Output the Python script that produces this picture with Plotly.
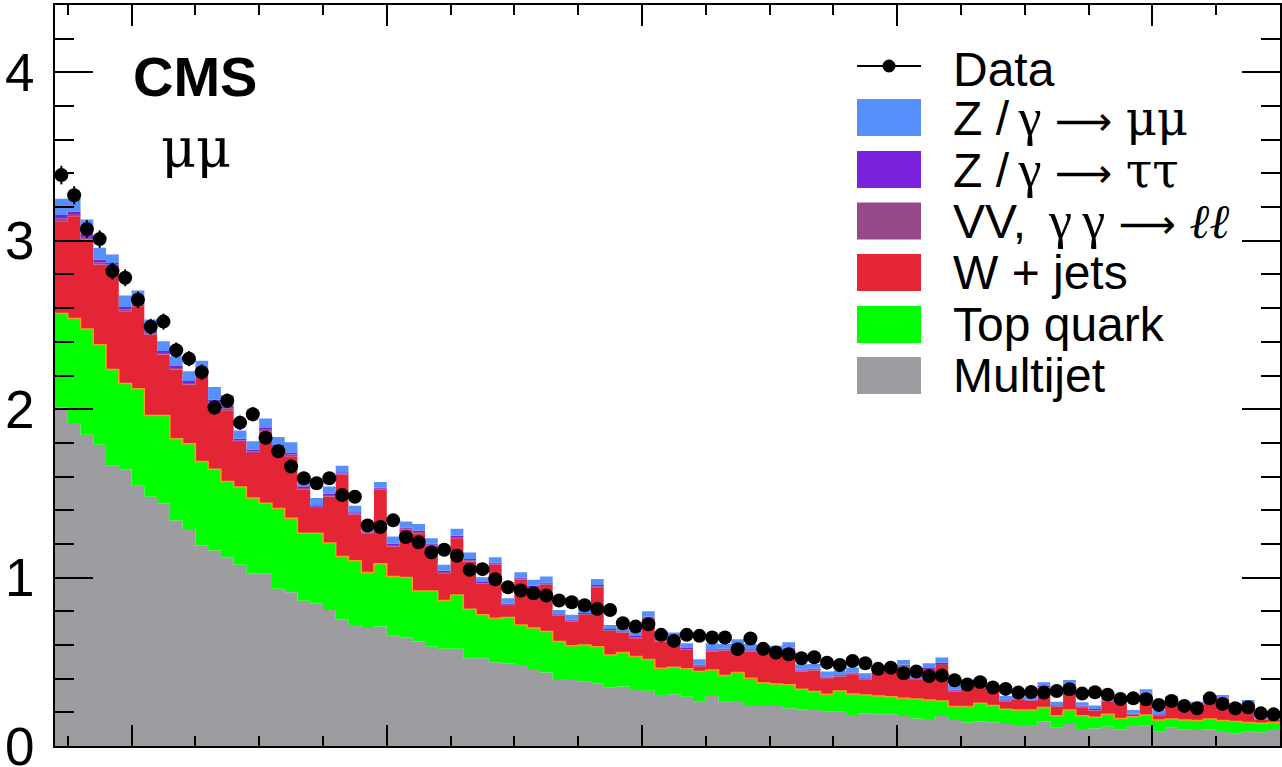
import numpy as np
import plotly.graph_objects as go

# ---------------- data (96 bins, arbitrary units on x) ----------------
bin_edges = list(range(0, 97))

multijet = [2.011,1.918,1.848,1.789,1.664,1.644,1.545,1.480,1.440,1.339,
            1.288,1.191,1.161,1.121,1.076,1.026,1.026,0.933,0.913,0.862,
            0.848,0.808,0.753,0.719,0.700,0.709,0.654,0.646,0.620,0.590,
            0.577,0.577,0.521,0.521,0.497,0.491,0.481,0.452,0.436,0.398,
            0.392,0.382,0.372,0.349,0.353,0.333,0.328,0.303,0.307,0.293,
            0.263,0.297,0.263,0.267,0.244,0.238,0.238,0.224,0.218,0.214,
            0.204,0.204,0.184,0.194,0.188,0.188,0.178,0.164,0.160,0.178,
            0.155,0.140,0.145,0.141,0.131,0.125,0.125,0.145,0.109,0.131,
            0.101,0.105,0.115,0.099,0.125,0.121,0.085,0.109,0.099,0.095,
            0.099,0.089,0.075,0.085,0.081,0.095]

top_quark = [0.557,0.620,0.628,0.594,0.571,0.508,0.577,0.483,0.523,0.486,
             0.507,0.499,0.483,0.450,0.462,0.446,0.416,0.477,0.440,0.402,
             0.416,0.397,0.372,0.381,0.330,0.373,0.352,0.355,0.301,0.331,
             0.287,0.320,0.291,0.258,0.262,0.272,0.238,0.248,0.244,0.222,
             0.204,0.218,0.218,0.192,0.202,0.198,0.185,0.159,0.161,0.165,
             0.179,0.155,0.155,0.169,0.158,0.138,0.130,0.139,0.119,0.109,
             0.103,0.123,0.125,0.109,0.109,0.105,0.105,0.115,0.113,0.089,
             0.079,0.094,0.109,0.099,0.087,0.089,0.089,0.083,0.071,0.083,
             0.079,0.065,0.073,0.065,0.049,0.063,0.070,0.051,0.056,0.056,
             0.061,0.062,0.070,0.054,0.054,0.044]

w_jets = [0.548,0.608,0.531,0.476,0.614,0.429,0.489,0.480,0.361,0.410,
          0.351,0.525,0.383,0.422,0.267,0.268,0.426,0.359,0.367,0.258,
          0.149,0.277,0.486,0.273,0.234,0.440,0.179,0.283,0.343,0.268,
          0.162,0.337,0.284,0.184,0.317,0.069,0.268,0.237,0.277,0.153,
          0.143,0.179,0.353,0.144,0.119,0.109,0.242,0.158,0.162,0.113,
          0.029,0.109,0.149,0.154,0.159,0.175,0.183,0.208,0.105,0.125,
          0.095,0.085,0.117,0.089,0.145,0.149,0.188,0.113,0.179,0.214,
          0.089,0.121,0.118,0.083,0.045,0.063,0.055,0.119,0.054,0.149,
          0.050,0.040,0.075,0.086,0.010,0.123,0.023,0.113,0.063,0.087,
          0.119,0.132,0.069,0.105,0.023,0.019]

vv_gg = [0.017,0.013,0.015,0.013,0.009,0.012,0.012,0.012,0.010,0.010,
         0.010,0.009,0.014,0.012,0.009,0.009,0.010,0.009,0.011,0.010,
         0.008,0.008,0.007,0.007,0.005,0.006,0.008,0.006,0.007,0.006,
         0.007,0.007,0.007,0.005,0.006,0.006,0.006,0.007,0.006,0.005,
         0.005,0.005,0.006,0.004,0.003,0.006,0.006,0.008,0.006,0.005,
         0.006,0.006,0.005,0.006,0.006,0.006,0.006,0.006,0.006,0.005,
         0.005,0.005,0.005,0.005,0.005,0.004,0.005,0.005,0.005,0.006,
         0.005,0.005,0.004,0.004,0.004,0.003,0.003,0.004,0.004,0.004,
         0.004,0.004,0.004,0.004,0.004,0.004,0.005,0.003,0.004,0.003,
         0.003,0.003,0.004,0.004,0.002,0.002]

z_tautau = [0.020,0.015,0.018,0.015,0.010,0.014,0.014,0.013,0.012,0.012,
            0.012,0.011,0.016,0.013,0.010,0.010,0.011,0.010,0.012,0.011,
            0.009,0.009,0.008,0.008,0.006,0.007,0.009,0.007,0.008,0.007,
            0.008,0.008,0.008,0.006,0.007,0.007,0.007,0.008,0.007,0.005,
            0.006,0.006,0.007,0.005,0.004,0.007,0.007,0.009,0.007,0.006,
            0.007,0.007,0.006,0.007,0.007,0.007,0.007,0.007,0.006,0.006,
            0.006,0.005,0.006,0.006,0.005,0.005,0.006,0.005,0.006,0.007,
            0.006,0.006,0.005,0.005,0.005,0.004,0.004,0.005,0.004,0.004,
            0.005,0.005,0.005,0.004,0.005,0.005,0.005,0.004,0.005,0.004,
            0.004,0.003,0.005,0.004,0.002,0.002]

z_mumu = [0.096,0.075,0.086,0.071,0.050,0.068,0.067,0.064,0.057,0.057,
          0.057,0.053,0.075,0.064,0.050,0.050,0.055,0.047,0.060,0.054,
          0.042,0.042,0.038,0.038,0.029,0.032,0.042,0.036,0.039,0.032,
          0.035,0.041,0.038,0.028,0.032,0.033,0.032,0.035,0.036,0.025,
          0.029,0.028,0.035,0.025,0.019,0.032,0.032,0.043,0.031,0.028,
          0.031,0.036,0.028,0.031,0.032,0.032,0.032,0.032,0.031,0.028,
          0.029,0.026,0.029,0.029,0.025,0.024,0.029,0.026,0.028,0.031,
          0.029,0.028,0.021,0.021,0.025,0.019,0.017,0.022,0.021,0.021,
          0.021,0.021,0.021,0.019,0.021,0.021,0.026,0.019,0.021,0.018,
          0.017,0.014,0.021,0.021,0.012,0.012]

data = [3.39,3.27,3.07,3.01,2.82,2.78,2.65,2.49,2.52,2.35,
        2.30,2.22,2.01,2.05,1.92,1.97,1.83,1.75,1.66,1.59,
        1.56,1.59,1.49,1.48,1.31,1.30,1.34,1.24,1.21,1.15,
        1.165,1.13,1.046,1.05,0.99,0.943,0.923,0.907,0.893,0.864,
        0.854,0.836,0.814,0.808,0.729,0.709,0.723,0.66,0.624,0.66,
        0.654,0.644,0.644,0.575,0.638,0.577,0.555,0.545,0.521,0.527,
        0.495,0.481,0.505,0.491,0.458,0.465,0.432,0.442,0.416,0.418,
        0.39,0.365,0.379,0.347,0.339,0.317,0.321,0.317,0.327,0.337,
        0.311,0.319,0.305,0.279,0.283,0.278,0.244,0.267,0.238,0.224,
        0.283,0.250,0.224,0.23,0.194,0.188]

data_err = [0.055,0.054,0.053,0.052,0.050,0.050,0.049,0.047,0.048,0.046,
            0.045,0.045,0.043,0.043,0.042,0.042,0.041,0.040,0.039,0.038,
            0.037,0.038,0.037,0.036,0.034,0.034,0.035,0.033,0.033,0.032,
            0.032,0.032,0.031,0.031,0.030,0.029,0.029,0.029,0.028,0.028,
            0.028,0.027,0.027,0.027,0.026,0.025,0.026,0.024,0.024,0.024,
            0.024,0.024,0.024,0.023,0.024,0.023,0.022,0.022,0.022,0.022,
            0.021,0.021,0.021,0.021,0.020,0.020,0.020,0.020,0.019,0.019,
            0.019,0.018,0.018,0.018,0.017,0.017,0.017,0.017,0.017,0.017,
            0.017,0.017,0.017,0.016,0.016,0.016,0.015,0.015,0.015,0.014,
            0.016,0.015,0.014,0.014,0.013,0.013]

x_major_ticks = [6, 26, 46, 66, 86]
x_minor_ticks = list(range(1, 97, 5))
y_ticks = [0, 1, 2, 3, 4]

# ---------------- styles ----------------
C_MUMU = "#5790fc"
C_TAUTAU = "#7a21dd"
C_VV = "#964a8b"
C_W = "#e42536"
C_TOP = "#00ff00"
C_QCD = "#9c9ca1"
C_EDGE = "#f89c20"
FONT = "Liberation Sans"

edges = np.array(bin_edges, dtype=float)
centers = 0.5 * (edges[:-1] + edges[1:])

layers = [
    (multijet, C_QCD),
    (top_quark, C_TOP),
    (w_jets, C_W),
    (vv_gg, C_VV),
    (z_tautau, C_TAUTAU),
    (z_mumu, C_MUMU),
]

fig = go.Figure()
cum = np.zeros(len(multijet))
green_top = None
for i, (vals, col) in enumerate(layers):
    cum = cum + np.array(vals)
    yy = np.append(cum, cum[-1])
    fig.add_trace(go.Scatter(
        x=edges, y=yy, mode="lines",
        line=dict(width=0, shape="hv", color=col),
        fill="tozeroy" if i == 0 else "tonexty",
        fillcolor=col, hoverinfo="skip", showlegend=False))
    if i == 1:
        green_top = yy.copy()

# orange outline on top of the top-quark histogram
fig.add_trace(go.Scatter(
    x=edges, y=green_top, mode="lines",
    line=dict(width=1.5, shape="hv", color=C_EDGE),
    hoverinfo="skip", showlegend=False))

# data points
fig.add_trace(go.Scatter(
    x=centers, y=data, mode="markers",
    marker=dict(size=14, color="black"),
    error_y=dict(type="data", array=data_err, thickness=2, width=0, color="black"),
    hoverinfo="skip", showlegend=False))

# ---------------- layout ----------------
W, H = 1282, 767
ML, MR, MT, MB = 55, 2, 5, 21
PW, PH = W - ML - MR, H - MT - MB


def px(xp):
    return (xp - ML) / PW


def py(yp):
    return (H - MB - yp) / PH


fig.update_layout(
    width=W, height=H,
    margin=dict(l=ML, r=MR, t=MT, b=MB, pad=0, autoexpand=False),
    paper_bgcolor="white", plot_bgcolor="white",
    font=dict(family=FONT, color="black"),
    showlegend=False,
    xaxis=dict(range=[0, 96], showgrid=False, zeroline=False, automargin=False,
               showline=True, linecolor="black", linewidth=2, mirror="ticks",
               ticks="inside", ticklen=21, tickwidth=2, tickcolor="black",
               tickmode="array", tickvals=x_major_ticks, showticklabels=False,
               minor=dict(tickmode="array", tickvals=x_minor_ticks, ticks="inside",
                          ticklen=10, tickwidth=2, tickcolor="black", showgrid=False)),
    yaxis=dict(range=[0, 4.4], showgrid=False, zeroline=False, automargin=False,
               showline=True, linecolor="black", linewidth=2, mirror="ticks",
               ticks="inside", ticklen=38, tickwidth=2, tickcolor="black",
               tickmode="array", tickvals=y_ticks,
               tickfont=dict(family=FONT, size=53, color="black"),
               ticklabelstandoff=8, ticklabeloverflow="allow",
               minor=dict(dtick=0.2, ticks="inside", ticklen=19, tickwidth=2,
                          tickcolor="black", showgrid=False)),
)

annotations = []
shapes = []

annotations.append(dict(xref="paper", yref="paper", x=px(131), y=py(76),
                        xanchor="left", yanchor="middle", showarrow=False,
                        text="<b>CMS</b>", font=dict(family=FONT, size=56, color="black")))
annotations.append(dict(xref="paper", yref="paper", x=px(159), y=py(149),
                        xanchor="left", yanchor="middle", showarrow=False,
                        text="μμ", font=dict(family="DejaVu Serif", size=54, color="black")))

# manual legend
sw_x0, sw_x1 = 857, 921
text_x = 951
row_y = [69.5, 117.5, 169.5, 221, 272.5, 324.5, 375.5]
sw_h = 37
gs = '<span style="font-family:Liberation Serif;font-size:52px">'
gm = '<span style="font-family:DejaVu Serif">'
ar = '<span style="font-family:DejaVu Sans;font-size:40px">⟶</span>'
labels = [
    "Data",
    "Z /\u2009" + gs + "γ</span> " + ar + " " + gm + "μμ</span>",
    "Z /\u2009" + gs + "γ</span> " + ar + " " + gm + "ττ</span>",
    "VV,\u2009 " + gs + "γ\u2009γ</span> " + ar + " " + gm + "<i>ℓℓ</i></span>",
    "W + jets",
    "Top quark",
    "Multijet",
]
colors = [None, C_MUMU, C_TAUTAU, C_VV, C_W, C_TOP, C_QCD]

for lab, yc, col in zip(labels, row_y, colors):
    annotations.append(dict(xref="paper", yref="paper", x=px(text_x), y=py(yc),
                            xanchor="left", yanchor="middle", showarrow=False,
                            text=lab, font=dict(family=FONT, size=48, color="black")))
    if col is not None:
        shapes.append(dict(type="rect", xref="paper", yref="paper",
                           x0=px(sw_x0), x1=px(sw_x1),
                           y0=py(yc + sw_h / 2), y1=py(yc - sw_h / 2),
                           fillcolor=col, line=dict(width=0)))

# data legend marker: line + dot
shapes.append(dict(type="line", xref="paper", yref="paper",
                   x0=px(sw_x0), x1=px(sw_x1), y0=py(66), y1=py(66),
                   line=dict(color="black", width=2)))
r = 6.5
shapes.append(dict(type="circle", xref="paper", yref="paper",
                   x0=px(889 - r), x1=px(889 + r), y0=py(66 + r), y1=py(66 - r),
                   fillcolor="black", line=dict(width=0)))

fig.update_layout(annotations=annotations, shapes=shapes)

fig.write_html("out.html",
               config={"displayModeBar": False},
               post_script="document.body.style.margin='0';document.body.style.padding='0';")
